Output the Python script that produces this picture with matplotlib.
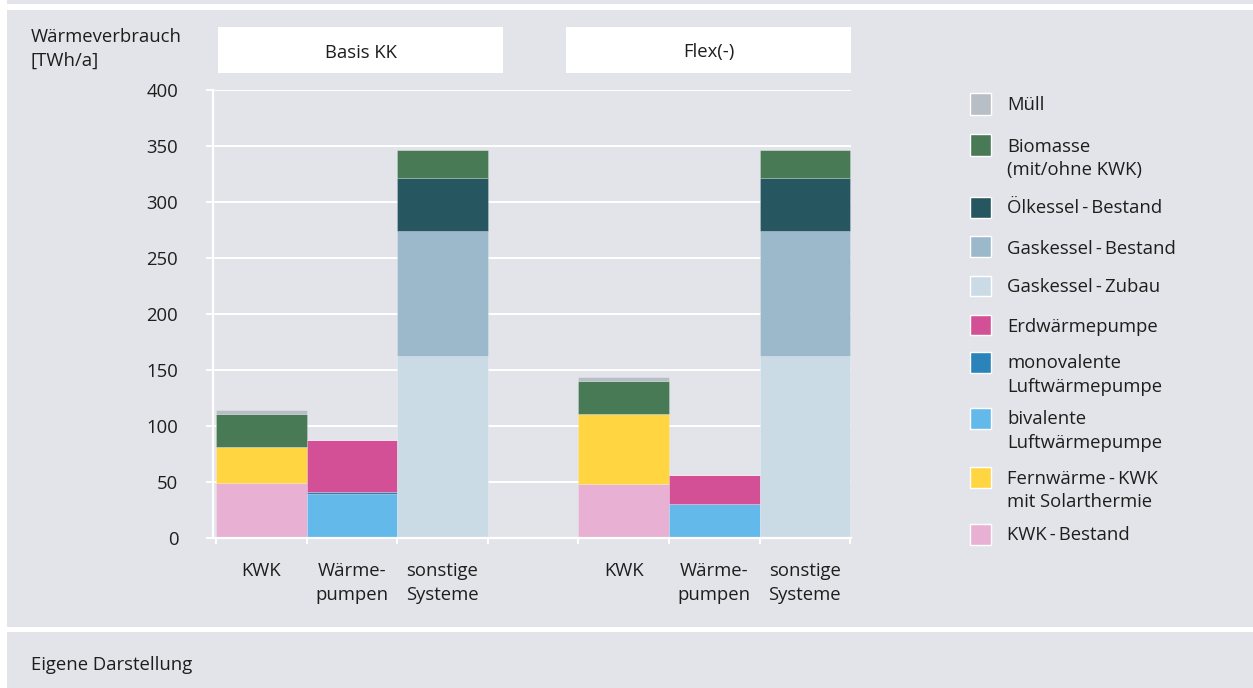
import matplotlib
matplotlib.use("Agg")
import matplotlib.pyplot as plt
from matplotlib.patches import Rectangle

plt.rcParams['font.family'] = ['Open Sans', 'DejaVu Sans']

W, H = 1253, 688
BG = "#e3e4e9"
TXT = "#1e1e1e"
FS = 13.3
TS = "\u2009"

# Six bars: three system groups per scenario
scenarios = ["Basis KK", "Flex(-)"]
categories = [["KWK"], ["Wärme-", "pumpen"], ["sonstige", "Systeme"]]

# Stacked series (bottom to top), values in TWh/a for
# [Basis KWK, Basis WP, Basis sonstige, Flex KWK, Flex WP, Flex sonstige]
kwk_bestand = [49, 0, 0, 48.5, 0, 0]
fernwaerme = [32, 0, 0, 62, 0, 0]
bivalente = [0, 39.5, 0, 0, 30.5, 0]
monovalente = [0, 1.5, 0, 0, 0, 0]
erdwaerme = [0, 46.5, 0, 0, 26, 0]
gas_zubau = [0, 0, 162.5, 0, 0, 162.5]
gas_bestand = [0, 0, 112, 0, 0, 112]
oel_bestand = [0, 0, 46.5, 0, 0, 46.5]
biomasse = [29.5, 0, 25, 29.5, 0, 25]
muell = [3.5, 0, 0, 3.5, 0, 0]

series = [
    ([f"KWK{TS}-{TS}Bestand"], kwk_bestand, "#e8b0d3"),
    ([f"Fernwärme{TS}-{TS}KWK", "mit Solarthermie"], fernwaerme, "#ffd541"),
    (["bivalente", "Luftwärmepumpe"], bivalente, "#63b9ea"),
    (["monovalente", "Luftwärmepumpe"], monovalente, "#2a83b9"),
    (["Erdwärmepumpe"], erdwaerme, "#d35097"),
    ([f"Gaskessel{TS}-{TS}Zubau"], gas_zubau, "#cadbe6"),
    ([f"Gaskessel{TS}-{TS}Bestand"], gas_bestand, "#9bb9cb"),
    ([f"Ölkessel{TS}-{TS}Bestand"], oel_bestand, "#265760"),
    (["Biomasse", "(mit/ohne KWK)"], biomasse, "#487a55"),
    (["Müll"], muell, "#b8bec6"),
]

y_ticks = [0, 50, 100, 150, 200, 250, 300, 350, 400]

# bar left edges: three bars, one empty slot, three bars
x_left = [0, 1, 2, 4, 5, 6]

LINE = 23.5  # pixel distance between text lines

fig = plt.figure(figsize=(W / 100, H / 100), dpi=100, facecolor=BG)

def px_rect(x0, y0, x1, y1, color):
    fig.patches.append(Rectangle((x0 / W, 1 - y1 / H), (x1 - x0) / W, (y1 - y0) / H,
                                 transform=fig.transFigure, facecolor=color,
                                 edgecolor="none", zorder=0))

def px_lines(x, y, lines, ha="left"):
    for i, ln in enumerate(lines):
        fig.text(x / W, 1 - (y + 1.5 + i * LINE) / H, ln, ha=ha, va="center",
                 fontsize=FS, color=TXT)

# white frame bands
px_rect(0, 4, W, 10, "white")
px_rect(0, 0, 7, H, "white")
px_rect(0, 627, W, 632, "white")

ax_l, ax_r, ax_t, ax_b = 213, 851, 90, 538
ax = fig.add_axes([ax_l / W, 1 - ax_b / H, (ax_r - ax_l) / W, (ax_b - ax_t) / H])
ax.set_facecolor(BG)

bottom = [0.0] * 6
for name, vals, col in series:
    ax.bar(x_left, vals, width=1.0, bottom=bottom, align="edge", color=col,
           edgecolor=(1, 1, 1, 0.25), linewidth=0.6, zorder=3)
    bottom = [b + v for b, v in zip(bottom, vals)]

ax.set_ylim(0, 400)
ax.set_xlim(-0.033, 7.01)
ax.set_yticks(y_ticks)
ax.set_yticklabels([str(t) for t in y_ticks])
ax.set_xticks([0, 1, 2, 3, 4, 5, 6, 7])
ax.set_xticklabels([])
ax.grid(axis="y", color="white", linewidth=1.4, zorder=1)
ax.set_axisbelow(True)
for s in ["top", "right"]:
    ax.spines[s].set_visible(False)
for s in ["left", "bottom"]:
    ax.spines[s].set_color("white")
    ax.spines[s].set_linewidth(1.6)
    ax.spines[s].set_zorder(4)
ax.tick_params(axis="y", length=5, width=1.4, color="white", pad=20,
               labelsize=FS, labelcolor=TXT)
ax.tick_params(axis="x", length=4, width=1.4, color="white")

# category labels below the bars
for grp in range(2):
    for i, cat in enumerate(categories):
        xc = x_left[grp * 3 + i] + 0.5
        xpix = ax.transData.transform((xc, 0))[0]
        px_lines(xpix, 570, cat, ha="center")

# scenario strip headers
for (x0, x1), title in zip([(218, 503), (566, 851)], scenarios):
    px_rect(x0, 27, x1, 73, "white")
    px_lines((x0 + x1) / 2, 51, [title], ha="center")

# axis title
px_lines(31, 36, ["Wärmeverbrauch", "[TWh/a]"])

# legend, top entry first
legend_rows = [104, 145, 207, 247, 286, 325, 362, 418, 477, 534]
for (name, vals, col), yc in zip(reversed(series), legend_rows):
    s = 21
    fig.patches.append(Rectangle((970 / W, 1 - (yc + s / 2) / H), s / W, s / H,
                                 transform=fig.transFigure, facecolor=col,
                                 edgecolor="white", linewidth=1.0, zorder=2))
    px_lines(1007, yc, name)

# footer
px_lines(31, 663, ["Eigene Darstellung"])

fig.savefig("out.png", dpi=100, facecolor=BG)
